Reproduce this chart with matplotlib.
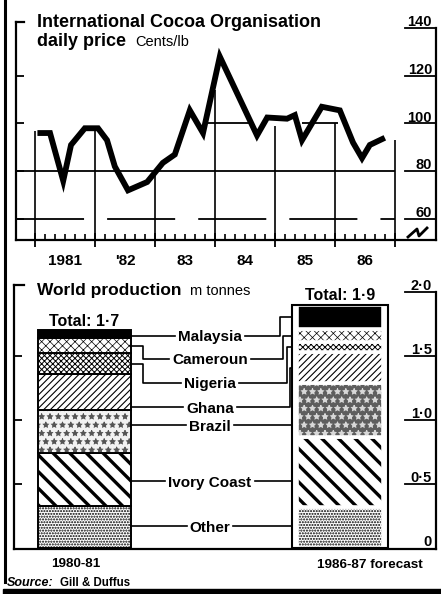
import matplotlib
matplotlib.use("Agg")
import matplotlib.pyplot as plt
from matplotlib.lines import Line2D
from matplotlib.patches import Rectangle

plt.rcParams["font.family"] = ["Liberation Sans", "DejaVu Sans"]
plt.rcParams["lines.scale_dashes"] = False

# ICCO daily price, cents/lb (dates as decimal years)
price_dates = [1981.04, 1981.25, 1981.47, 1981.60, 1981.83, 1982.05,
               1982.20, 1982.33, 1982.55, 1982.87, 1983.13, 1983.33,
               1983.58, 1983.80, 1984.08, 1984.70, 1984.87, 1985.20,
               1985.33, 1985.45, 1985.78, 1986.08, 1986.30, 1986.45,
               1986.58, 1986.83]
price_values = [96, 96, 76, 91, 98, 98,
                93, 82, 72, 75.5, 83.5, 87,
                105.5, 96, 128, 95, 102.5, 102,
                103.5, 93, 107, 105.5, 92, 85.5,
                91, 94]
price_ticks = [140, 120, 100, 80, 60]
years = [1981, 1982, 1983, 1984, 1985, 1986]
year_labels = ["1981", "'82", "83", "84", "85", "86"]

# world cocoa production, m tonnes
producers = ["Other", "Ivory Coast", "Brazil", "Ghana", "Nigeria", "Cameroun", "Malaysia"]
prod_1980 = [0.33, 0.41, 0.34, 0.28, 0.16, 0.12, 0.06]
prod_1986 = [0.32, 0.55, 0.42, 0.24, 0.08, 0.10, 0.19]
seasons = ["1980-81", "1986-87 forecast"]
prod_ticks = [2.0, 1.5, 1.0, 0.5, 0]

W, H = 441, 594
fig = plt.figure(figsize=(W / 100, H / 100), dpi=100)


def axes_px(x0, y0, x1, y1):
    return fig.add_axes([x0 / W, 1 - y1 / H, (x1 - x0) / W, (y1 - y0) / H])


def fig_text(x, y, s, **kw):
    return fig.text(x / W, 1 - y / H, s, va="baseline", **kw)


def dotted(v):
    return "0" if v == 0 else f"{v:.1f}".replace(".", "\u00b7")


# ---------------- price chart ----------------
ax = axes_px(16, 22, 436, 240)
t_lo, t_hi = 1980.683, 1987.683
v_lo, v_hi = 51.2, 142.5
ax.set_xlim(t_lo, t_hi)
ax.set_ylim(v_lo, v_hi)
ax.patch.set_alpha(0)
ax.spines["top"].set_visible(False)
ax.spines["right"].set_bounds(v_lo, 140)
for s in ax.spines.values():
    s.set_linewidth(1.6)


def tx(px):  # pixel column -> date on the price axis
    return t_lo + (px - 16) / 60


def ty(py):  # pixel row -> price
    return 140 - (py - 28) / 2.3875


ax.set_yticks([60, 80, 100, 120])
ax.tick_params(axis="y", direction="in", length=6, width=1.3, labelleft=False)
ax.set_xticks(range(1981, 1988))
ax.set_xticks([y + k / 6 for y in range(1981, 1987) for k in range(1, 6)], minor=True)
ax.tick_params(axis="x", which="major", direction="inout", length=10, width=1.3, labelbottom=False)
ax.tick_params(axis="x", which="minor", direction="in", length=4, width=1.2)

# year dividers and grid
ax.vlines(range(1981, 1988), v_lo, [97, 99, 78, 114, 99, 100, 93], color="black", lw=1.2)
ax.hlines(80, t_lo, 1987, color="black", lw=1.3)
ax.hlines(60, t_lo, 1987, color="black", lw=1.3, linestyles=[(0, (49, 16.6))])
ax.hlines([100, 100], [1983.88, 1985.45], [1984.63, 1986.05], color="black", lw=1.3)

ax.plot(price_dates, price_values, color="black", lw=4.2,
        solid_joinstyle="miter", solid_capstyle="butt")

for v in price_ticks:
    ax.text(tx(432), v + 0.8, str(v), ha="right", va="baseline",
            fontsize=10.5, fontweight="bold")
    ax.plot([tx(405), tx(436)], [v, v], color="black", lw=1.3, clip_on=False)

# axis break mark
ax.plot([tx(408), tx(417), tx(419), tx(427)], [ty(237), ty(229), ty(236), ty(228)],
        color="black", lw=2, clip_on=False)
ax.plot([tx(16), tx(24)], [v_hi, v_hi], color="black", lw=1.6, clip_on=False)

for y, lab in zip(years, year_labels):
    ax.text(y + 0.5, -0.115, lab, transform=ax.get_xaxis_transform(),
            ha="center", va="baseline", fontsize=11, fontweight="bold")

fig_text(37, 27, "International Cocoa Organisation", fontsize=13, fontweight="bold")
fig_text(37, 46, "daily price", fontsize=13, fontweight="bold")
fig_text(135, 46, "Cents/lb", fontsize=10.5)

# ---------------- production chart ----------------
ax2 = axes_px(14, 285, 436, 549)
p_lo, p_hi = -1 / 128, 263 / 128
ax2.set_xlim(14, 436)
ax2.set_ylim(p_lo, p_hi)
ax2.patch.set_alpha(0)
ax2.spines["top"].set_visible(False)
ax2.spines["right"].set_bounds(p_lo, 2.0)
for s in ax2.spines.values():
    s.set_linewidth(1.6)
ax2.set_xticks([])
ax2.set_yticks([0.5, 1.0, 1.5])
ax2.tick_params(axis="y", direction="in", length=6, width=1.3, labelleft=False)
ax2.plot([14, 24], [p_hi, p_hi], color="black", lw=1.6, clip_on=False)

# (face, hatch colour, hatch, hatch width) per producer
fills = [
    ("white", "black", "......", 1.0),   # Other
    ("white", "black", "\\\\", 2.4),     # Ivory Coast
    ("#f2f2f2", "#555555", "**..", 0.6),  # Brazil
    ("white", "black", "/////", 0.8),    # Ghana
    ("white", "black", "xxxxxx", 0.7),   # Nigeria
    ("white", "black", "xxxx", 0.5),     # Cameroun
    ("black", "black", "", 0.5),         # Malaysia
]
fills_right = list(fills)
fills_right[2] = ("#5e5e5e", "#d8d8d8", "**..", 0.7)

left_x, left_w = 84.5, 93
right_x, right_w = 340, 86

left_bottoms, right_bottoms = [], []
b = 0
for v, (fc, hc, hatch, hlw) in zip(prod_1980, fills):
    bar = ax2.bar(left_x, v, left_w, bottom=b, color=fc, edgecolor=hc,
                  linewidth=0, hatch=hatch)
    bar.patches[0].set_hatch_linewidth(hlw)
    ax2.bar(left_x, v, left_w, bottom=b, fill=False, edgecolor="black", linewidth=1.4)
    left_bottoms.append(b)
    b += v
left_total = b

b = 0
for v, (fc, hc, hatch, hlw) in zip(prod_1986, fills_right):
    bar = ax2.bar(right_x, v, right_w, bottom=b, color=fc, edgecolor=hc,
                  linewidth=0, hatch=hatch)
    bar.patches[0].set_hatch_linewidth(hlw)
    ax2.bar(right_x, v, right_w, bottom=b, fill=False, edgecolor="white", linewidth=2.6)
    right_bottoms.append(b)
    b += v
right_total = b
ax2.add_patch(Rectangle((right_x - right_w / 2 - 5, 0), right_w + 10, right_total,
                        fill=False, edgecolor="black", lw=1.5))

ax2.text(left_x, left_total + 0.035, "Total: " + dotted(left_total), ha="center",
         va="baseline", fontsize=11.5, fontweight="bold")
ax2.text(right_x, right_total + 0.035, "Total: " + dotted(right_total), ha="center",
         va="baseline", fontsize=11.5, fontweight="bold")

for v in prod_ticks:
    ax2.text(432, v + 0.012, dotted(v), ha="right", va="baseline",
             fontsize=10.5, fontweight="bold")
    if v:
        ax2.plot([405, 436], [v, v], color="black", lw=1.3, clip_on=False)

# producer names with leader lines to each bar
label_y = [0.17, 0.52, 0.96, 1.10, 1.29, 1.48, 1.66]
labels = [ax2.text(210, y, name, ha="center", va="center_baseline",
                   fontsize=11, fontweight="bold")
          for name, y in zip(producers, label_y)]
fig.canvas.draw()
renderer = fig.canvas.get_renderer()
inv = ax2.transData.inverted()

left_edge = left_x + left_w / 2
frame_edge = right_x - right_w / 2 - 5
bend_right = [290, 287, 283, 280]
k = 0
for i, (t, y) in enumerate(zip(labels, label_y)):
    bb = t.get_window_extent(renderer)
    x0 = inv.transform((bb.x0, bb.y0))[0]
    x1 = inv.transform((bb.x1, bb.y0))[0]

    lo, hi = left_bottoms[i], left_bottoms[i] + prod_1980[i]
    if lo < y < hi:
        ax2.plot([left_edge, x0 - 3], [y, y], color="black", lw=1.2)
    else:
        mid = (lo + hi) / 2
        ax2.plot([left_edge, 143, 143, x0 - 3], [mid, mid, y, y], color="black", lw=1.2)

    lo, hi = right_bottoms[i], right_bottoms[i] + prod_1986[i]
    if lo < y < hi:
        ax2.plot([x1 + 3, frame_edge], [y, y], color="black", lw=1.2)
    else:
        mid = (lo + hi) / 2
        bx = bend_right[k]
        k += 1
        ax2.plot([x1 + 3, bx, bx, frame_edge], [y, y, mid, mid], color="black", lw=1.2)

fig_text(37, 295, "World production", fontsize=12.5, fontweight="bold")
fig_text(190, 295, "m tonnes", fontsize=10.5)
fig_text(76, 567, seasons[0], ha="center", fontsize=9.7, fontweight="bold")
fig_text(370, 568, seasons[1], ha="center", fontsize=9.7, fontweight="bold")
fig_text(7, 586, "Source:", fontsize=9, fontweight="bold", style="italic")
fig_text(60, 586, "Gill & Duffus", fontsize=8.3, fontweight="bold")

# page rules
fig.add_artist(Line2D([5 / W, 5 / W], [1, 1 - 582 / H], color="black", lw=2.2))
fig.add_artist(Rectangle((3 / W, 0), 438 / W, 5 / H, transform=fig.transFigure,
                         color="black"))

fig.savefig("out.png", dpi=100)
